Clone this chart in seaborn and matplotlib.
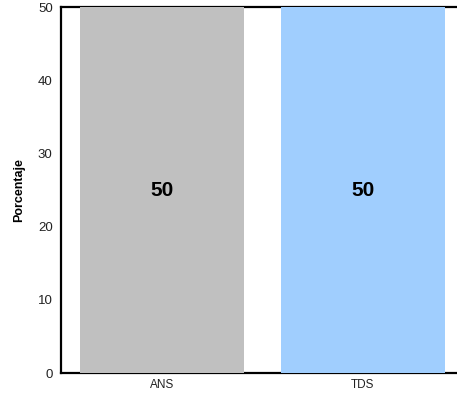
from matplotlib import pyplot as plt
import pandas as pd
import seaborn as sns

categories = ["ANS", "TDS"]
percentages = [50, 50]
bar_colors = ["#c0c0c0", "#a0cefe"]

sns.set_style("white")
plt.rcParams['font.family'] = ['Liberation Sans', 'DejaVu Sans']

df = pd.DataFrame({"grupo": categories, "Porcentaje": percentages})

fig = plt.figure(figsize=(4.57, 3.96), dpi=100)
ax = fig.add_axes([0.1335, 0.058, 0.8796, 0.9242])

sns.barplot(data=df, x="grupo", y="Porcentaje", hue="grupo",
            palette=bar_colors, width=0.82, ax=ax, legend=False,
            saturation=1, zorder=3, linewidth=0, edgecolor="none")

for patch, val in zip(ax.patches, percentages):
    ax.text(patch.get_x() + patch.get_width() / 2, val * 0.5, f"{val}",
            ha="center", va="center", fontsize=15, fontweight="bold",
            color="black")

ax.set_xlim(-0.505, 1.5)
ax.set_ylim(0, 50)
ax.set_yticks([0, 10, 20, 30, 40, 50])
ax.set_xlabel("")
ax.set_ylabel("Porcentaje", fontsize=9, fontweight="bold", labelpad=9,
              color="black")
ax.tick_params(axis="both", length=0, labelsize=9.5, colors="#222222")
ax.tick_params(axis="y", pad=6)
ax.tick_params(axis="x", pad=4, labelsize=8.5)

for side in ["left", "bottom", "top"]:
    ax.spines[side].set_color("black")
    ax.spines[side].set_linewidth(1.6)
    ax.spines[side].set_zorder(2)
ax.spines["right"].set_visible(False)

plt.savefig("out.png", dpi=100)
